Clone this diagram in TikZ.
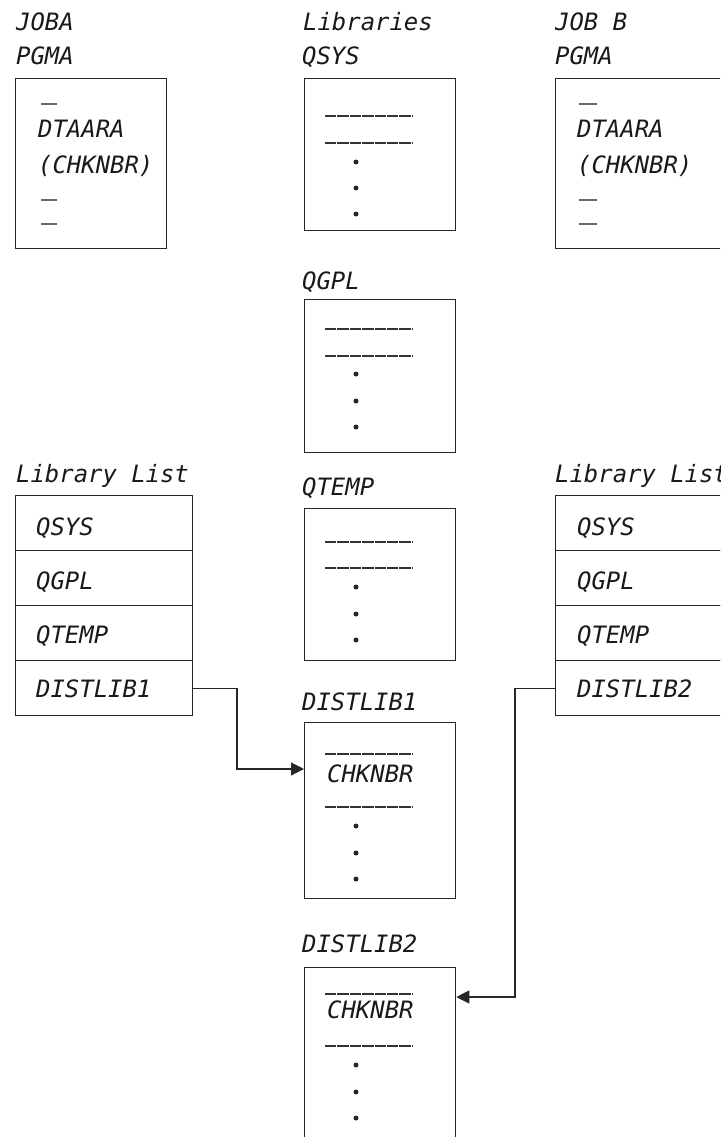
\documentclass[tikz,border=0pt]{standalone}
\usepackage{fontspec}
\newfontfamily\dfontfam{DejaVu Sans Mono}
\usetikzlibrary{arrows.meta}
\newcommand{\dfont}{\dfontfam\itshape\fontsize{23.9}{28}\selectfont}
\begin{document}
\begin{tikzpicture}[x=1pt,y=-1pt,
  lbl/.style={anchor=base west, inner sep=0pt, font=\dfont, text=black!90},
  box/.style={draw=black!85, line width=1.3pt, anchor=north west, inner sep=0pt, minimum width=151pt},
  rowbox/.style={draw=black!85, line width=1.3pt, anchor=north west, inner sep=0pt, minimum width=177pt, minimum height=55pt},
  shortrule/.style={draw=black!60, line width=1.2pt},
  longrule/.style={draw=black!80, line width=1.6pt, dash pattern=on 11.4pt off 1pt},
  conn/.style={draw=black!85, line width=1.1pt},
  arr/.style={-{Triangle[length=13pt,width=13pt]}},
  dot/.style={fill=black!85}
]
\useasboundingbox (0,0) rectangle (720,1137);
\clip (0,0) rectangle (720,1137);

% ---------- Job A ----------
\node[lbl] (jobaT) at (16,31) {JOBA};
\node[lbl] (pgmaT) at (16,65) {PGMA};
\node[box, minimum height=170pt] (pgmaA) at (15,78) {};
\draw[shortrule] (41,104) -- (57,104);
\node[lbl] (dtaA) at (38,137) {DTAARA};
\node[lbl] (chkA) at (38,173) {(CHKNBR)};
\draw[shortrule] (41,200) -- (57,200);
\draw[shortrule] (41,224) -- (57,224);

% ---------- Job B ----------
\node[lbl] (jobbT) at (555,31) {JOB B};
\node[lbl] (pgmbT) at (555,65) {PGMA};
\node[box, minimum width=200pt, minimum height=170pt] (pgmaB) at (555,78) {};
\draw[shortrule] (579,104) -- (597,104);
\node[lbl] (dtaB) at (577,137) {DTAARA};
\node[lbl] (chkB) at (577,173) {(CHKNBR)};
\draw[shortrule] (579,200) -- (597,200);
\draw[shortrule] (579,224) -- (597,224);

% ---------- Libraries ----------
\node[lbl] (libsT) at (303,31) {Libraries};

\node[lbl] (qsysT) at (302,65) {QSYS};
\node[box, minimum height=152pt] (qsys) at (304,78) {};
\draw[longrule] (325,116) -- (412,116);
\draw[longrule] (325,143) -- (412,143);
\foreach \yy in {162,188,214} \fill[dot] (356,\yy) circle (2.5pt);

\node[lbl] (qgplT) at (302,289) {QGPL};
\node[box, minimum height=153pt] (qgpl) at (304,299) {};
\draw[longrule] (325,329) -- (412,329);
\draw[longrule] (325,356) -- (412,356);
\foreach \yy in {374,401,427} \fill[dot] (356,\yy) circle (2.5pt);

\node[lbl] (qtempT) at (302,495) {QTEMP};
\node[box, minimum height=152pt] (qtemp) at (304,508) {};
\draw[longrule] (325,542) -- (412,542);
\draw[longrule] (325,568) -- (412,568);
\foreach \yy in {587,614,640} \fill[dot] (356,\yy) circle (2.5pt);

\node[lbl] (dl1T) at (302,710) {DISTLIB1};
\node[box, minimum height=176pt] (dl1) at (304,722) {};
\draw[longrule] (325,754) -- (412,754);
\node[lbl] (chk1) at (327,782) {CHKNBR};
\draw[longrule] (325,807) -- (412,807);
\foreach \yy in {826,853,879} \fill[dot] (356,\yy) circle (2.5pt);

\node[lbl] (dl2T) at (302,952) {DISTLIB2};
\node[box, minimum height=176pt] (dl2) at (304,967) {};
\draw[longrule] (325,994) -- (412,994);
\node[lbl] (chk2) at (327,1018) {CHKNBR};
\draw[longrule] (325,1046) -- (412,1046);
\foreach \yy in {1065,1092,1118} \fill[dot] (356,\yy) circle (2.5pt);

% ---------- Library list A ----------
\node[lbl] (llAT) at (16,482) {Library List};
\node[rowbox] (la1) at (15,495) {};
\node[rowbox] (la2) at (15,550) {};
\node[rowbox] (la3) at (15,605) {};
\node[rowbox] (la4) at (15,660) {};
\node[lbl] (la1T) at (36,535) {QSYS};
\node[lbl] (la2T) at (36,589) {QGPL};
\node[lbl] (la3T) at (36,643) {QTEMP};
\node[lbl] (la4T) at (36,697) {DISTLIB1};

% ---------- Library list B ----------
\node[lbl] (llBT) at (555,482) {Library List};
\node[rowbox] (lb1) at (555,495) {};
\node[rowbox] (lb2) at (555,550) {};
\node[rowbox] (lb3) at (555,605) {};
\node[rowbox] (lb4) at (555,660) {};
\node[lbl] (lb1T) at (577,535) {QSYS};
\node[lbl] (lb2T) at (577,589) {QGPL};
\node[lbl] (lb3T) at (577,643) {QTEMP};
\node[lbl] (lb4T) at (577,697) {DISTLIB2};

% ---------- Connectors ----------
\coordinate (k1) at (237,769);
\draw[conn, arr] (la4.east) -| (k1) -- (dl1.west |- k1);
\coordinate (k2) at (515,997);
\draw[conn, arr] (lb4.west) -| (k2) -- (dl2.east |- k2);
\end{tikzpicture}
\end{document}
